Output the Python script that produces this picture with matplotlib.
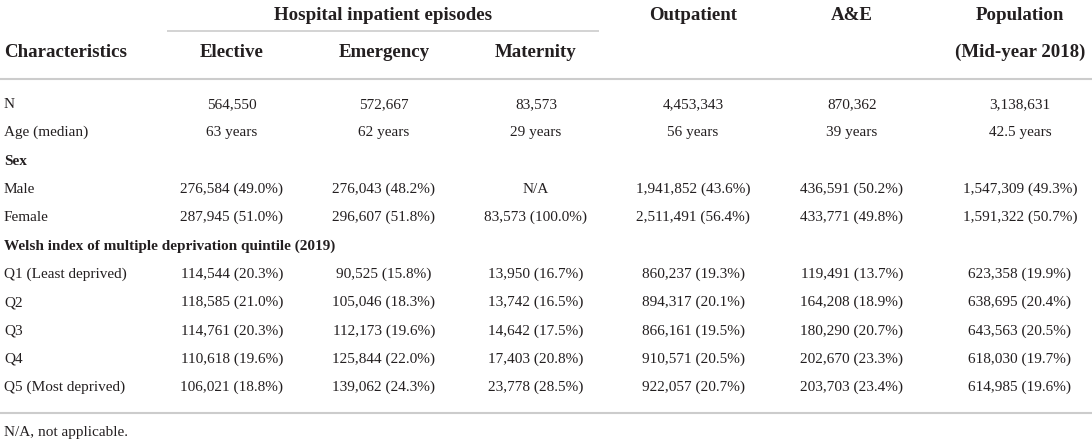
import matplotlib
matplotlib.use("Agg")
import matplotlib.pyplot as plt

plt.rcParams['font.family'] = ['Liberation Serif', 'DejaVu Serif']

# ---- data ----
group_header = "Hospital inpatient episodes"
columns = ["Elective", "Emergency", "Maternity", "Outpatient", "A&E", "Population"]
col_header_top = ["", "", "", "Outpatient", "A&E", "Population"]
col_header_bottom = ["Elective", "Emergency", "Maternity", "", "", "(Mid-year 2018)"]
row_labels = ["N", "Age (median)", "Sex", "Male", "Female",
              "Welsh index of multiple deprivation quintile (2019)",
              "Q1 (Least deprived)", "Q2", "Q3", "Q4", "Q5 (Most deprived)"]
section_rows = ["Sex", "Welsh index of multiple deprivation quintile (2019)"]

elective = ["564,550", "63 years", "", "276,584 (49.0%)", "287,945 (51.0%)", "",
            "114,544 (20.3%)", "118,585 (21.0%)", "114,761 (20.3%)", "110,618 (19.6%)", "106,021 (18.8%)"]
emergency = ["572,667", "62 years", "", "276,043 (48.2%)", "296,607 (51.8%)", "",
             "90,525 (15.8%)", "105,046 (18.3%)", "112,173 (19.6%)", "125,844 (22.0%)", "139,062 (24.3%)"]
maternity = ["83,573", "29 years", "", "N/A", "83,573 (100.0%)", "",
             "13,950 (16.7%)", "13,742 (16.5%)", "14,642 (17.5%)", "17,403 (20.8%)", "23,778 (28.5%)"]
outpatient = ["4,453,343", "56 years", "", "1,941,852 (43.6%)", "2,511,491 (56.4%)", "",
              "860,237 (19.3%)", "894,317 (20.1%)", "866,161 (19.5%)", "910,571 (20.5%)", "922,057 (20.7%)"]
ae = ["870,362", "39 years", "", "436,591 (50.2%)", "433,771 (49.8%)", "",
      "119,491 (13.7%)", "164,208 (18.9%)", "180,290 (20.7%)", "202,670 (23.3%)", "203,703 (23.4%)"]
population = ["3,138,631", "42.5 years", "", "1,547,309 (49.3%)", "1,591,322 (50.7%)", "",
              "623,358 (19.9%)", "638,695 (20.4%)", "643,563 (20.5%)", "618,030 (19.7%)", "614,985 (19.6%)"]
footnote = "N/A, not applicable."

# ---- layout ----
W, H = 1092, 444
fig = plt.figure(figsize=(W / 100, H / 100), dpi=100)
ax = fig.add_axes([0, 0, 1, 1])
ax.set_xlim(0, W)
ax.set_ylim(H, 0)
ax.axis("off")

txt = "#231f20"
rule = "#cccccc"
body_fs = 11
head_fs = 13.6

col_x = [232, 384, 536, 693, 852, 1020]
label_x = 4
y_top = 14
y_sub = 51
row_y0 = 103
row_dy = 28.3
body_off = 5     # baseline offset from visual centre (px)
head_off = 6

# header
ax.text(383, y_top + head_off, group_header, ha="center", va="baseline", fontsize=head_fs,
        fontweight="bold", color=txt)
ax.plot([167, 599], [31, 31], color=rule, lw=1.2, solid_capstyle="butt")
ax.text(label_x, y_sub + head_off, "Characteristics", ha="left", va="baseline", fontsize=head_fs,
        fontweight="bold", color=txt)
for x, t, b in zip(col_x, col_header_top, col_header_bottom):
    if t:
        ax.text(x, y_top + head_off, t, ha="center", va="baseline", fontsize=head_fs,
                fontweight="bold", color=txt)
    if b:
        ax.text(x, y_sub + head_off, b, ha="center", va="baseline", fontsize=head_fs,
                fontweight="bold", color=txt)
ax.plot([0, W], [79, 79], color=rule, lw=1.5, solid_capstyle="butt")

# body
cols = [elective, emergency, maternity, outpatient, ae, population]
for i, lab in enumerate(row_labels):
    y = row_y0 + i * row_dy + body_off
    bold = lab in section_rows
    ax.text(label_x, y, lab, ha="left", va="baseline", fontsize=body_fs,
            fontweight="bold" if bold else "normal", color=txt)
    for x, col in zip(col_x, cols):
        if col[i]:
            ax.text(x, y, col[i], ha="center", va="baseline", fontsize=body_fs, color=txt)

ax.plot([0, W], [413, 413], color=rule, lw=1.5, solid_capstyle="butt")
ax.text(label_x, 431 + body_off, footnote, ha="left", va="baseline", fontsize=body_fs, color=txt)

fig.savefig("out.png", dpi=100)
